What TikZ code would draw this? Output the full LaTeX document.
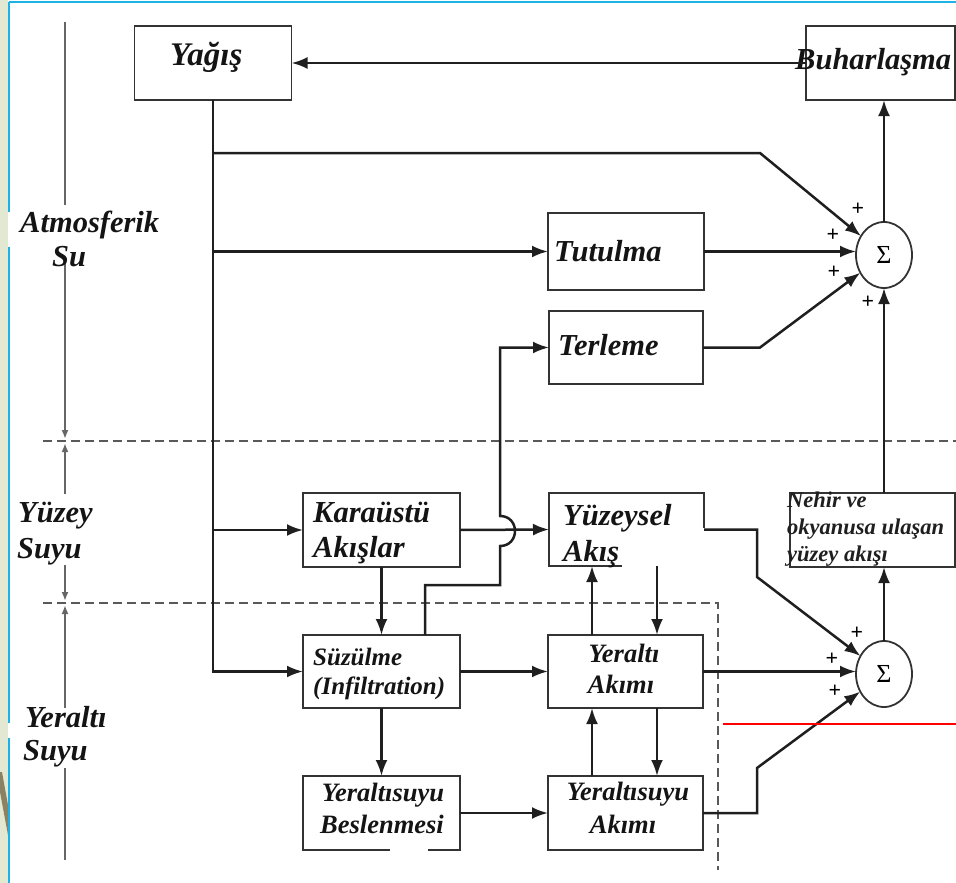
\documentclass[tikz,border=0pt]{standalone}
\usepackage{fontspec}
\setmainfont{Liberation Serif}
\usetikzlibrary{arrows.meta,shapes.geometric}
\definecolor{paleg}{HTML}{E3E8D3}
\definecolor{cyanl}{HTML}{1CB2E6}
\definecolor{olive}{HTML}{8A8262}
\tikzset{
  box/.style={draw=black!80, line width=1.8pt, inner sep=0pt, outer sep=0pt, fill=white},
  ln/.style={draw=black!88, line width=2.5pt},
  arr/.style={ln, -{Latex[length=16pt,width=12pt]}},
  lbl/.style={font=\fontsize{30.5}{33}\selectfont\bfseries\itshape, inner sep=0pt, anchor=base west, text=black!92},
  slbl/.style={font=\fontsize{26.5}{28}\selectfont\bfseries\itshape, inner sep=0pt, anchor=base, text=black!92},
  nlbl/.style={font=\fontsize{22.5}{24}\selectfont\bfseries\itshape, inner sep=0pt, anchor=base west, text=black!88},
  axisln/.style={draw=black!60, line width=1.8pt},
  axarr/.style={axisln, -{Latex[length=9pt,width=7pt]}},
  sep/.style={draw=black!65, line width=1.8pt, dash pattern=on 9pt off 5pt},
  sig/.style={draw=black!80, line width=1.8pt, ellipse, minimum width=56pt, minimum height=66pt, inner sep=0pt, outer sep=0pt, fill=white, font=\fontsize{26}{26}\selectfont},
  plus/.style={font=\fontsize{22}{22}\selectfont\bfseries, inner sep=0pt}
}
\begin{document}
\begin{tikzpicture}[x=1pt,y=-1pt]
\useasboundingbox (0,0) rectangle (956,883);
% frame
\fill[paleg] (0,0) rectangle (8,883);
\fill[olive] (0,772) -- (2,772) -- (8,805) -- (8,835) -- (0,792) -- cycle;
\draw[cyanl, line width=2pt] (9,2) -- (956,2);
\draw[cyanl, line width=2pt] (9,2) -- (9,212);
\draw[cyanl, line width=2pt] (9,247) -- (9,723);
\draw[cyanl, line width=2pt] (9,738) -- (9,883);

% separators
\draw[sep] (43,441) -- (956,441);
\draw[sep] (43,603) -- (718,603) -- (718,870);

% left axis
\draw[axisln] (65,22) -- (65,205);
\draw[axarr] (65,262) -- (65,439);
\draw[axarr] (65,494) -- (65,443);
\draw[axarr] (65,565) -- (65,601);
\draw[axarr] (65,708) -- (65,605);
\draw[axisln] (65,768) -- (65,860);

% left labels
\node[lbl] (latm) at (20,232) {Atmosferik};
\node[lbl] (lsu) at (52,266) {Su};
\node[lbl] (lyuz) at (18,522) {Yüzey};
\node[lbl] (lyuzs) at (17,558) {Suyu};
\node[lbl] (lyer) at (25,727) {Yeraltı};
\node[lbl] (lyers) at (23,760) {Suyu};

% boxes
\node[box, minimum width=157pt, minimum height=74pt] (yagis) at (213,63) {};
\node[box, minimum width=149pt, minimum height=74pt] (buhar) at (880.5,63) {};
\node[box, minimum width=156pt, minimum height=77pt] (tut) at (626,251.5) {};
\node[box, minimum width=154pt, minimum height=73pt] (ter) at (626,347.5) {};
\node[box, minimum width=157pt, minimum height=74pt] (kara) at (381.5,530) {};
\node[box, minimum width=155pt, minimum height=73pt] (yuz) at (626.5,529.5) {};
\node[box, minimum width=165pt, minimum height=74pt] (nehir) at (872.5,530) {};
\node[box, minimum width=157pt, minimum height=73pt] (suz) at (381.5,671.5) {};
\node[box, minimum width=155pt, minimum height=73pt] (yak) at (625.5,671.5) {};
\node[box, minimum width=157pt, minimum height=74pt] (ybes) at (381.5,813) {};
\node[box, minimum width=155pt, minimum height=74pt] (yyak) at (625.5,813) {};
\node[sig] (sig1) at (884,255) {Σ};
\node[sig] (sig2) at (884,674) {Σ};

% white patches
\fill[white] (622,528) rectangle (706,569);
\fill[white] (390,846) rectangle (428,855);

% box texts
\node[lbl, font=\fontsize{33}{35}\selectfont\bfseries\itshape] (tyagis) at (170,66) {Yağış};
\node[lbl] (tbuhar) at (795,70) {Buharlaşma};
\node[lbl] (ttut) at (554,261) {Tutulma};
\node[lbl] (tter) at (558,355) {Terleme};
\node[lbl] (tkara1) at (313,522) {Karaüstü};
\node[lbl] (tkara2) at (313,557) {Akışlar};
\node[lbl] (tyuz1) at (563,525) {Yüzeysel};
\node[lbl] (tyuz2) at (563,561) {Akış};
\node[nlbl] (tneh1) at (787,507) {Nehir ve};
\node[nlbl] (tneh2) at (787,534) {okyanusa ulaşan};
\node[nlbl] (tneh3) at (787,561) {yüzey akışı};
\node[slbl, anchor=base west, font=\fontsize{25}{28}\selectfont\bfseries\itshape] (tsuz1) at (313,665) {Süzülme};
\node[slbl, anchor=base west, font=\fontsize{25}{28}\selectfont\bfseries\itshape] (tsuz2) at (313,694) {(Infiltration)};
\node[slbl] (tyak1) at (624,662) {Yeraltı};
\node[slbl] (tyak2) at (621,693) {Akımı};
\node[slbl] (tybes1) at (383,801) {Yeraltısuyu};
\node[slbl] (tybes2) at (382,833) {Beslenmesi};
\node[slbl] (tyyak1) at (628,800) {Yeraltısuyu};
\node[slbl] (tyyak2) at (623,833) {Akımı};

% plus signs
\node[plus] (p11) at (858,209) {+};
\node[plus] (p12) at (833,235) {+};
\node[plus] (p13) at (834,272) {+};
\node[plus] (p14) at (868,302) {+};
\node[plus] (p21) at (857,633) {+};
\node[plus] (p22) at (832,659) {+};
\node[plus] (p23) at (835,691) {+};

% coordinates
\coordinate (k1) at (760,153);
\coordinate (k2) at (760,347.5);
\coordinate (h1) at (425,585);
\coordinate (h2) at (500,585);
\coordinate (hb) at (500,546);
\coordinate (ht) at (500,516);
\coordinate (r1) at (757,529.5);
\coordinate (r2) at (757,577);
\coordinate (s1) at (757,813);
\coordinate (s2) at (757,768);
\coordinate (u1) at (592,0);
\coordinate (d1) at (657,0);

% connectors
\draw[arr] (buhar.west) -- (yagis.east);
\draw[arr] (yagis.south) -- (yagis.south |- suz.west) -- (suz.west);
\draw[arr] (yagis.south |- k1) -- (k1) -- (sig1);
\draw[arr] (yagis.south |- tut.west) -- (tut.west);
\draw[arr] (yagis.south |- kara.west) -- (kara.west);
\draw[arr] (tut.east) -- (tut.east -| sig1.west);
\draw[arr] (ter.east) -- (k2) -- (sig1);
\draw[arr] (sig1.north) -- (buhar.south -| sig1.north);
\draw[arr] (nehir.north -| sig1.south) -- (sig1.south);
\draw[arr] (sig2.north) -- (nehir.south -| sig2.north);
\draw[arr] (kara.east) -- (yuz.west);
\draw[arr] (suz.north -| h1) -- (h1) -- (h2) -- (hb) .. controls (520,546) and (520,516) .. (ht) -- (ht |- ter.west) -- (ter.west);
\draw[arr] (kara.south) -- (suz.north);
\draw[arr] (suz.south) -- (ybes.north);
\draw[arr] (suz.east) -- (yak.west);
\draw[arr] (ybes.east) -- (yyak.west);
\draw[arr] (yuz.east) -- (r1) -- (r2) -- (sig2);
\draw[arr] (yak.east) -- (yak.east -| sig2.west);
\draw[arr] (yyak.east) -- (s1) -- (s2) -- (sig2);
\draw[arr] (yak.north -| u1) -- (yuz.south -| u1);
\draw[arr] (yuz.south -| d1) -- (yak.north -| d1);
\draw[arr] (yyak.north -| u1) -- (yak.south -| u1);
\draw[arr] (yak.south -| d1) -- (yyak.north -| d1);

% red line
\coordinate (red1) at (723,724);
\coordinate (red2) at (956,724);
\draw[red, line width=2pt] (red1) -- (red2);
\end{tikzpicture}
\end{document}
